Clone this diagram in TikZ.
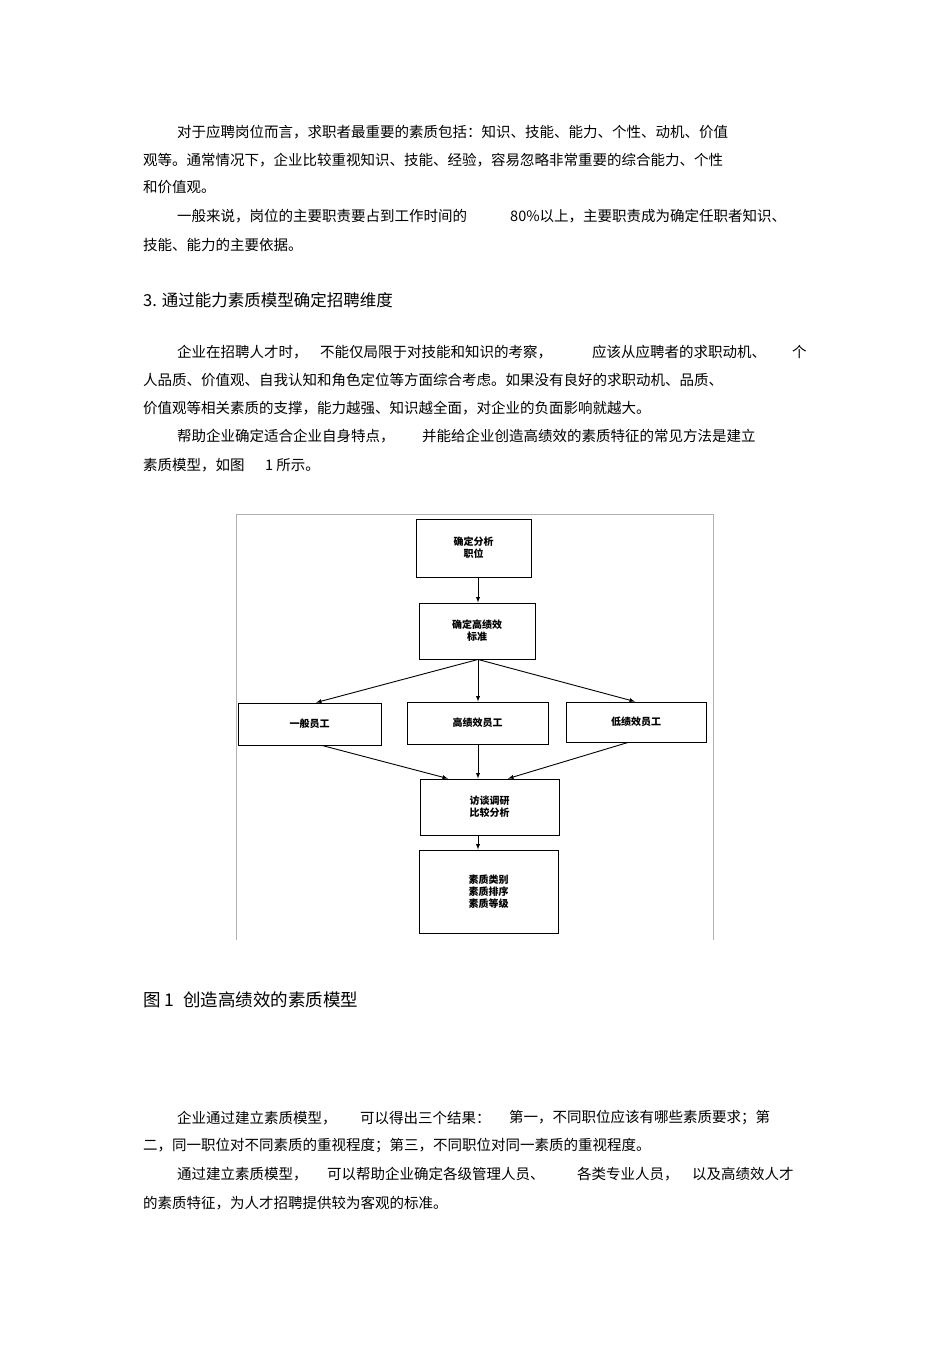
\documentclass[tikz,border=0pt]{standalone}
\usepackage{fontspec}
\setmainfont{Noto Sans CJK SC}
\newfontfamily\cjk{Noto Sans CJK SC}
\begin{document}
\begin{tikzpicture}[x=1pt,y=-1pt,
  t/.style={anchor=west,inner sep=0pt,font=\fontsize{14.5}{16}\selectfont},
  bx/.style={draw,line width=0.9pt,inner sep=0pt,font=\fontsize{10}{12}\selectfont\bfseries,align=center},
  ar/.style={-latex,line width=0.9pt}]
\useasboundingbox (0,0) rectangle (950,1345);
\node[t] (l1) at (177,132) {对于应聘岗位而言，求职者最重要的素质包括：知识、技能、能力、个性、动机、价值};
\node[t] (l2) at (143,160) {观等。通常情况下，企业比较重视知识、技能、经验，容易忽略非常重要的综合能力、个性};
\node[t] (l3) at (143,187) {和价值观。};
\node[t] (l4) at (177,216) {一般来说，岗位的主要职责要占到工作时间的};
\node[t] (l4b) at (510,216) {80\%以上，主要职责成为确定任职者知识、};
\node[t] (l5) at (143,245) {技能、能力的主要依据。};
\node[t,font=\fontsize{16.5}{18}\selectfont] (h3) at (143,300) {3. 通过能力素质模型确定招聘维度};
\node[t] (m1) at (177,352) {企业在招聘人才时，};
\node[t] (m1b) at (320,352) {不能仅局限于对技能和知识的考察，};
\node[t] (m1c) at (592,352) {应该从应聘者的求职动机、};
\node[t] (m1d) at (792,352) {个};
\node[t] (m2) at (143,380) {人品质、价值观、自我认知和角色定位等方面综合考虑。如果没有良好的求职动机、品质、};
\node[t] (m3) at (143,408) {价值观等相关素质的支撑，能力越强、知识越全面，对企业的负面影响就越大。};
\node[t] (m4) at (177,436) {帮助企业确定适合企业自身特点，};
\node[t] (m4b) at (422,436) {并能给企业创造高绩效的素质特征的常见方法是建立};
\node[t] (m5) at (143,465) {素质模型，如图};
\node[t] (m5b) at (265,465) {1 所示。};
% frame
\draw[gray!60,line width=0.6pt] (236,940) -- (236,514) -- (713,514) -- (713,940);
\node[bx,minimum width=115pt,minimum height=58pt] (b1) at (473.5,548) {确定分析\\职位};
\node[bx,minimum width=116pt,minimum height=56pt] (b2) at (477,631) {确定高绩效\\标准};
\node[bx,minimum width=143pt,minimum height=42pt] (b3) at (309.5,724) {一般员工};
\node[bx,minimum width=141pt,minimum height=42pt] (b4) at (477.5,723) {高绩效员工};
\node[bx,minimum width=140pt,minimum height=40pt] (b5) at (636,722) {低绩效员工};
\node[bx,minimum width=139pt,minimum height=56pt] (b6) at (489.5,807) {访谈调研\\比较分析};
\node[bx,minimum width=139pt,minimum height=83pt] (b7) at (488.5,891.5) {素质类别\\素质排序\\素质等级};
\draw[ar] (b1.south -| 478,0) -- (b2.north -| 478,0);
\draw[ar] (b2.south -| 478,0) -- (b3.north -| 316,0);
\draw[ar] (b2.south -| 478,0) -- (b4.north -| 478,0);
\draw[ar] (b2.south -| 478,0) -- (b5.north -| 635,0);
\draw[ar] (b3.south -| 322,0) -- (b6.north -| 448,0);
\draw[ar] (b4.south -| 478,0) -- (b6.north -| 478,0);
\draw[ar] (b5.south -| 628,0) -- (b6.north -| 508,0);
\draw[ar] (b6.south -| 478,0) -- (b7.north -| 478,0);
\node[t,font=\fontsize{17.5}{20}\selectfont] (cap) at (143,1000) {图 1\enspace 创造高绩效的素质模型};
\node[t] (n1) at (177,1118) {企业通过建立素质模型，};
\node[t] (n1b) at (360,1118) {可以得出三个结果：};
\node[t] (n1c) at (509,1118) {第一，不同职位应该有哪些素质要求；第};
\node[t] (n2) at (143,1146) {二，同一职位对不同素质的重视程度；第三，不同职位对同一素质的重视程度。};
\node[t] (n3) at (177,1174) {通过建立素质模型，};
\node[t] (n3b) at (327,1174) {可以帮助企业确定各级管理人员、};
\node[t] (n3c) at (577,1174) {各类专业人员，};
\node[t] (n3d) at (692,1174) {以及高绩效人才};
\node[t] (n4) at (143,1203) {的素质特征，为人才招聘提供较为客观的标准。};
\end{tikzpicture}
\end{document}
